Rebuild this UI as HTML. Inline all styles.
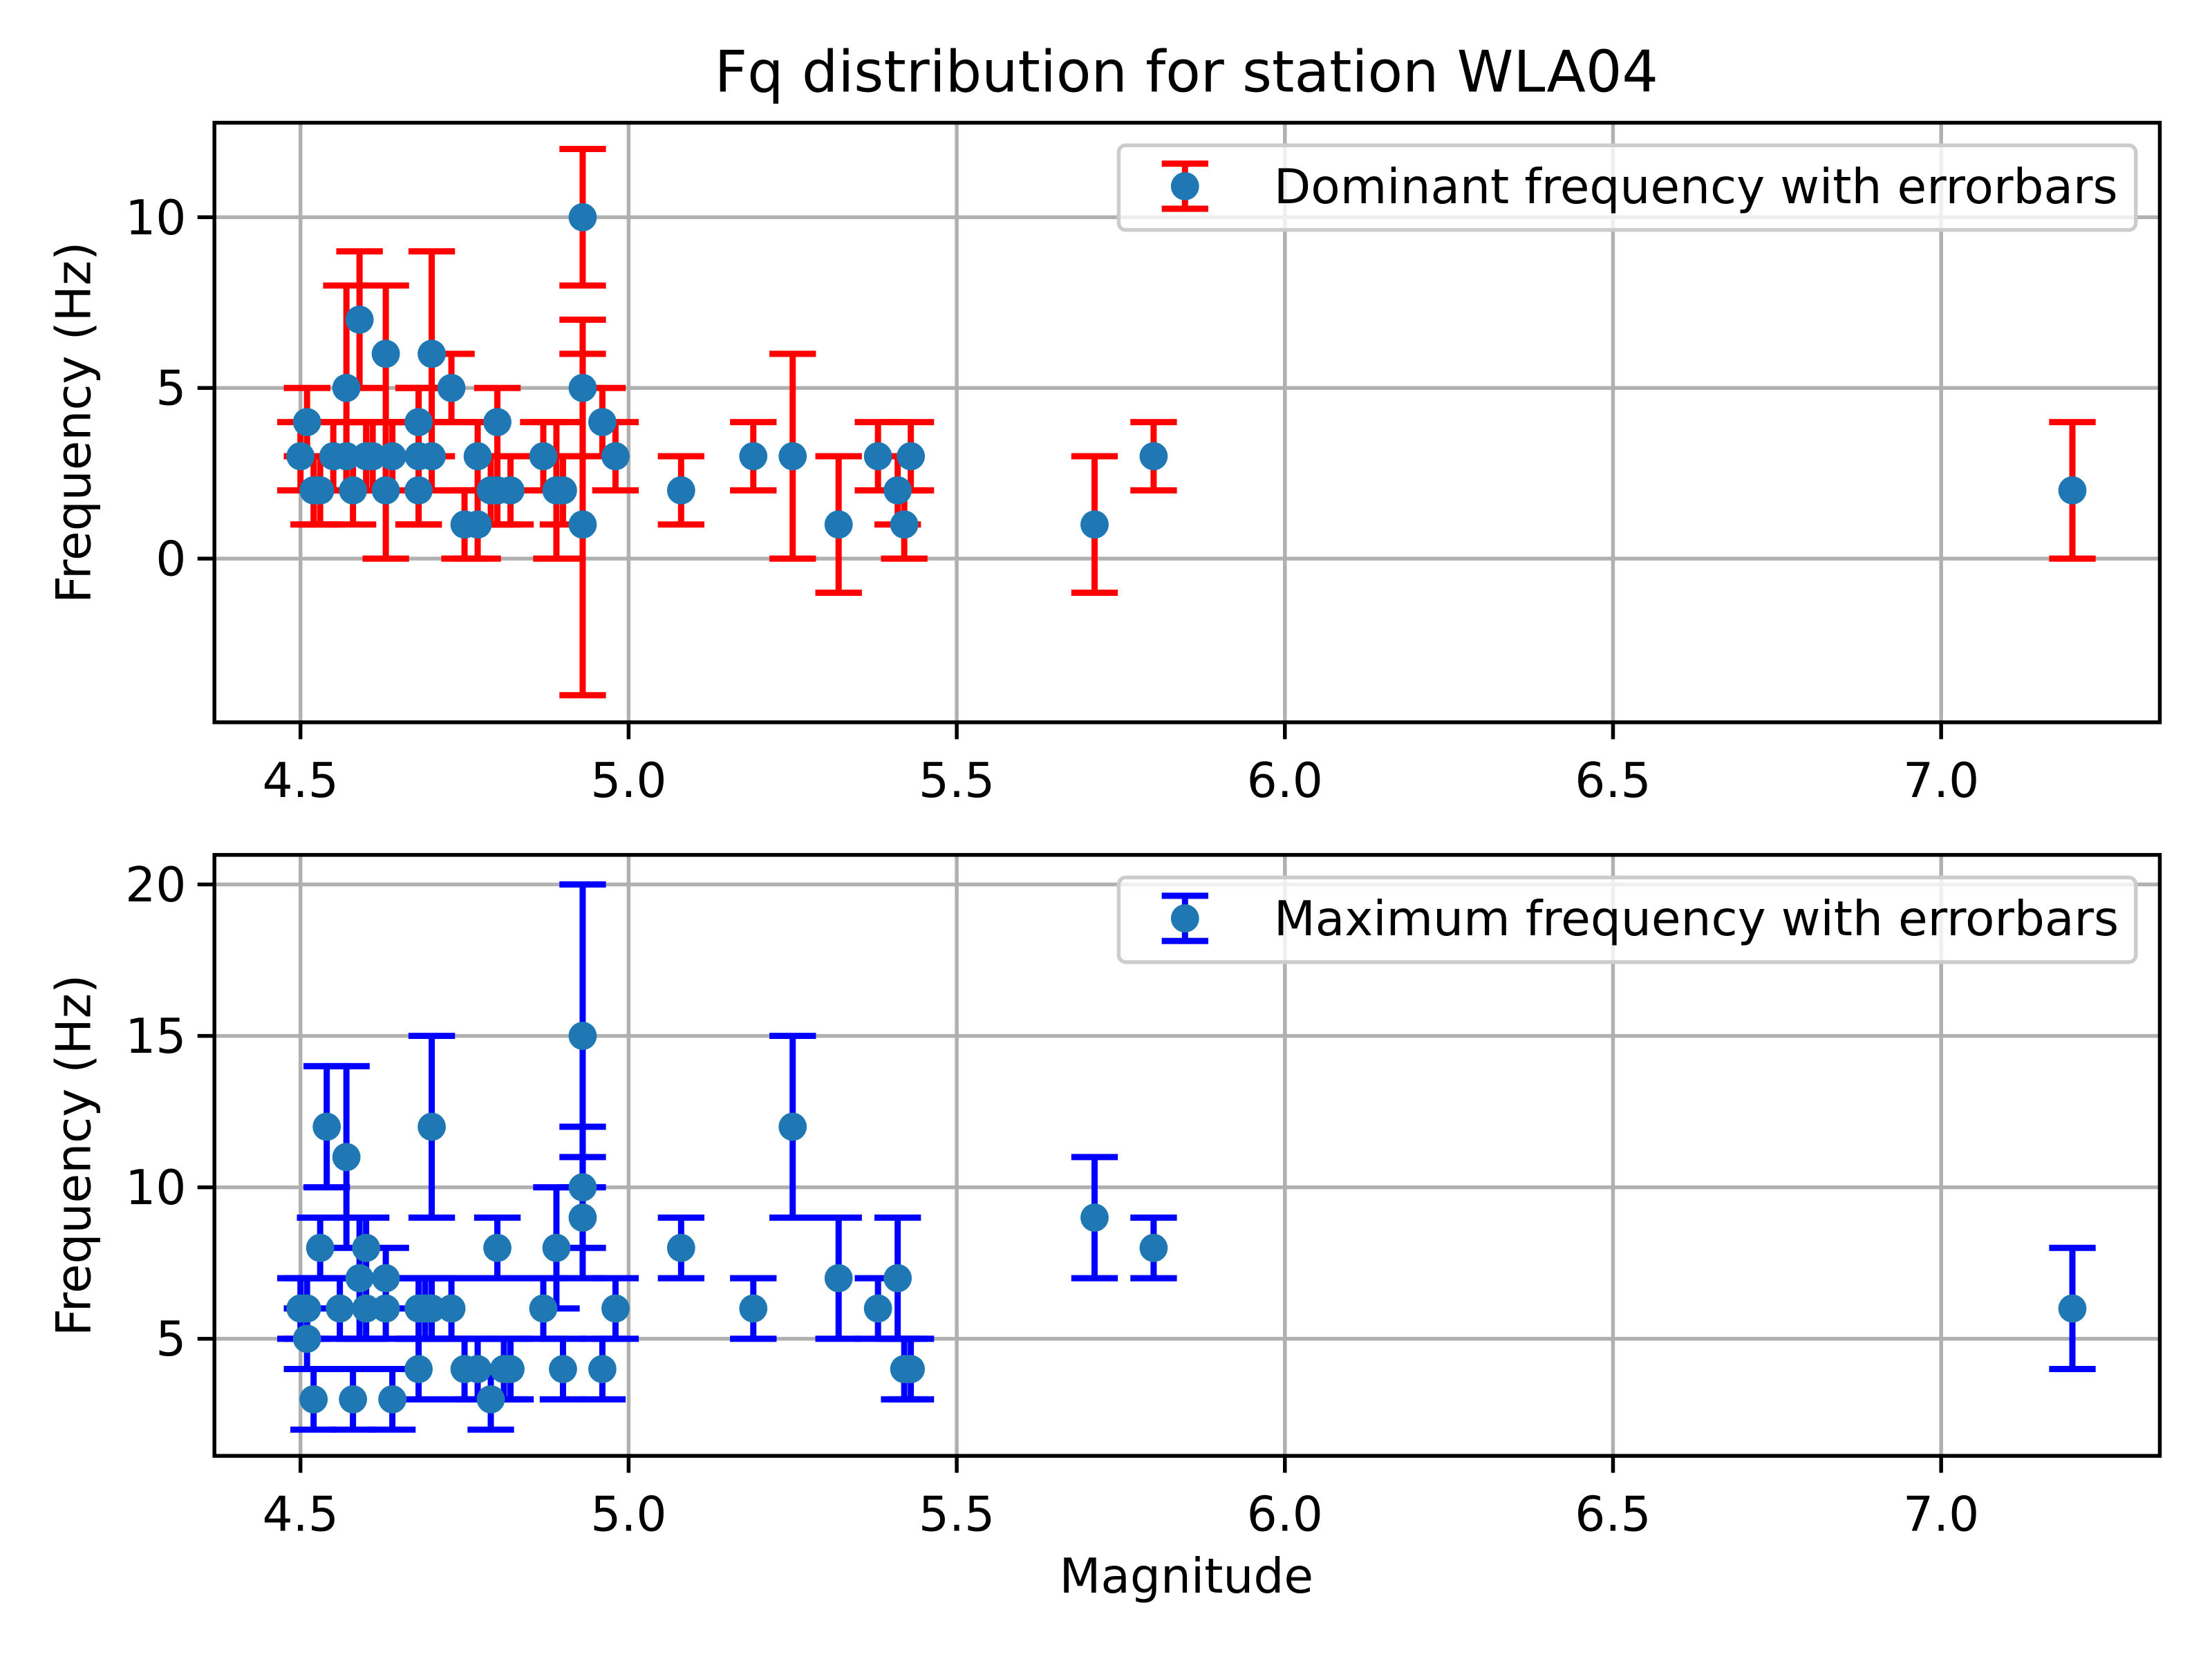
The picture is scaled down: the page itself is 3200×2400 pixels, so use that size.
<!DOCTYPE html>
<html><head><meta charset="utf-8">
<style>
html,body{margin:0;padding:0;background:#fff;}
svg{display:block;font-family:"DejaVu Sans","Liberation Sans",sans-serif;}
</style></head>
<body>
<svg id="chart" width="3200" height="2400" viewBox="0 0 1568 1176" preserveAspectRatio="none" xmlns="http://www.w3.org/2000/svg">
<rect width="1568" height="1176" fill="#fff"/>
<text x="841" y="65" font-size="40.5" text-anchor="middle">Fq distribution for station WLA04</text>
<g id="p1"></g>
<g id="p2"></g>
<text x="841" y="1129" font-size="34" text-anchor="middle">Magnitude</text>
</svg>
<script>
const domMag = [4.50,4.51,4.52,4.53,4.55,4.57,4.57,4.58,4.59,4.60,4.61,4.63,4.63,4.64,4.68,4.68,4.68,4.70,4.70,4.73,4.75,4.77,4.77,4.79,4.80,4.80,4.82,4.87,4.89,4.90,4.93,4.93,4.93,4.96,4.98,5.08,5.19,5.25,5.32,5.38,5.41,5.42,5.43,5.71,5.80,7.20];
const domVal = [3,4,2,2,3,3,5,2,7,3,3,6,2,3,4,3,2,6,3,5,1,3,1,2,4,2,2,3,2,2,10,5,1,4,3,2,3,3,1,3,2,1,3,1,3,2];
const domErr = [1,1,1,1,1,1,3,1,2,1,1,2,2,1,1,2,1,3,1,1,1,1,1,1,1,1,1,1,2,1,2,2,5,1,1,1,1,3,2,1,1,1,1,2,1,2];
const maxMag = [4.50,4.51,4.51,4.52,4.53,4.54,4.56,4.57,4.58,4.59,4.60,4.60,4.63,4.63,4.64,4.68,4.68,4.69,4.70,4.70,4.73,4.75,4.77,4.79,4.80,4.81,4.82,4.87,4.89,4.90,4.93,4.93,4.93,4.96,4.98,5.08,5.19,5.25,5.32,5.38,5.41,5.42,5.43,5.71,5.80,7.20];
const maxVal = [6,6,5,3,8,12,6,11,3,7,6,8,7,6,3,4,6,6,12,6,6,4,4,3,8,4,4,6,8,4,15,10,9,4,6,8,6,12,7,6,7,4,4,9,8,6];
const maxErr = [1,1,1,1,1,2,1,3,1,2,1,1,1,1,1,1,1,1,3,1,1,1,1,1,1,1,1,1,2,1,5,2,2,1,1,1,1,3,2,1,2,1,1,2,1,2];
const xTicks = [4.5,5.0,5.5,6.0,6.5,7.0];
const xTickLabels = ["4.5","5.0","5.5","6.0","6.5","7.0"];
const topTicks = [0,5,10];
const botTicks = [5,10,15,20];

const NS="http://www.w3.org/2000/svg";
function mk(parent,tag,attrs){const e=document.createElementNS(NS,tag);for(const k in attrs)e.setAttribute(k,attrs[k]);parent.appendChild(e);return e;}
const L=152,R=1531;
function xs(m){return 213+(m-4.5)*(1376-213)/2.5;}

function panel(g,top,bot,ys,yTicks,mags,vals,errs,color,legendText,prefix){
  xTicks.forEach((t,i)=>{
    const gl=mk(g,'line',{x1:xs(t),x2:xs(t),y1:top,y2:bot,stroke:'#b0b0b0','stroke-width':2.7});
    
    
  });
  yTicks.forEach(t=>{
    const gl=mk(g,'line',{x1:L,x2:R,y1:ys(t),y2:ys(t),stroke:'#b0b0b0','stroke-width':2.7});
    
    
  });
  mags.forEach((m,i)=>{
    const x=xs(m),y1=ys(vals[i]+errs[i]),y2=ys(vals[i]-errs[i]);
    const eb=mk(g,'path',{d:`M${x},${y1}V${y2}M${x-16.5},${y1}H${x+16.5}M${x-16.5},${y2}H${x+16.5}`,stroke:color,'stroke-width':4.4,fill:'none'});
    
    
  });
  mags.forEach((m,i)=>{
    const c=mk(g,'circle',{cx:xs(m),cy:ys(vals[i]),r:10,fill:'#1f77b4'});
    
    
  });
  const fr=mk(g,'rect',{x:L,y:top,width:R-L,height:bot-top,fill:'none',stroke:'#000','stroke-width':2.7});
  
  
  xTicks.forEach((t,i)=>{
    const tk=mk(g,'line',{x1:xs(t),x2:xs(t),y1:bot,y2:bot+12,stroke:'#000','stroke-width':2.7});
    
    
    const tl=mk(g,'text',{x:xs(t),y:bot+53,'font-size':34,'text-anchor':'middle'});
    tl.textContent=xTickLabels[i];
    
    
  });
  yTicks.forEach(t=>{
    const tk=mk(g,'line',{x1:L-12,x2:L,y1:ys(t),y2:ys(t),stroke:'#000','stroke-width':2.7});
    
    
    const tl=mk(g,'text',{x:L-20,y:ys(t)+12,'font-size':34,'text-anchor':'end'});
    tl.textContent=String(t);
    
    
  });
  const cy=(top+bot)/2;
  const yl=mk(g,'text',{x:0,y:0,'font-size':34,'text-anchor':'middle',transform:`translate(64,${cy}) rotate(-90)`});
  yl.textContent='Frequency (Hz)';
  
  
  const lg=mk(g,'g',{});
  
  
  const ly=top+45;
  mk(lg,'rect',{x:793,y:top+16,width:721,height:60,rx:5,fill:'#fff','fill-opacity':0.8,stroke:'#cccccc','stroke-width':2.7});
  mk(lg,'path',{d:`M840,${ly-16}V${ly+16}M823.5,${ly-16}H856.5M823.5,${ly+16}H856.5`,stroke:color,'stroke-width':4.4,fill:'none'});
  mk(lg,'circle',{cx:840,cy:ly,r:10,fill:'#1f77b4'});
  const lt=mk(lg,'text',{x:903,y:ly+12,'font-size':34});
  lt.textContent=legendText;
  
  
}
panel(document.getElementById('p1'),87,512,v=>396-v*24.2,topTicks,domMag,domVal,domErr,'#ff0000','Dominant frequency with errorbars','dominant');
panel(document.getElementById('p2'),606,1032,v=>949-(v-5)*21.47,botTicks,maxMag,maxVal,maxErr,'#0000ff','Maximum frequency with errorbars','maximum');
</script>
</body></html>
